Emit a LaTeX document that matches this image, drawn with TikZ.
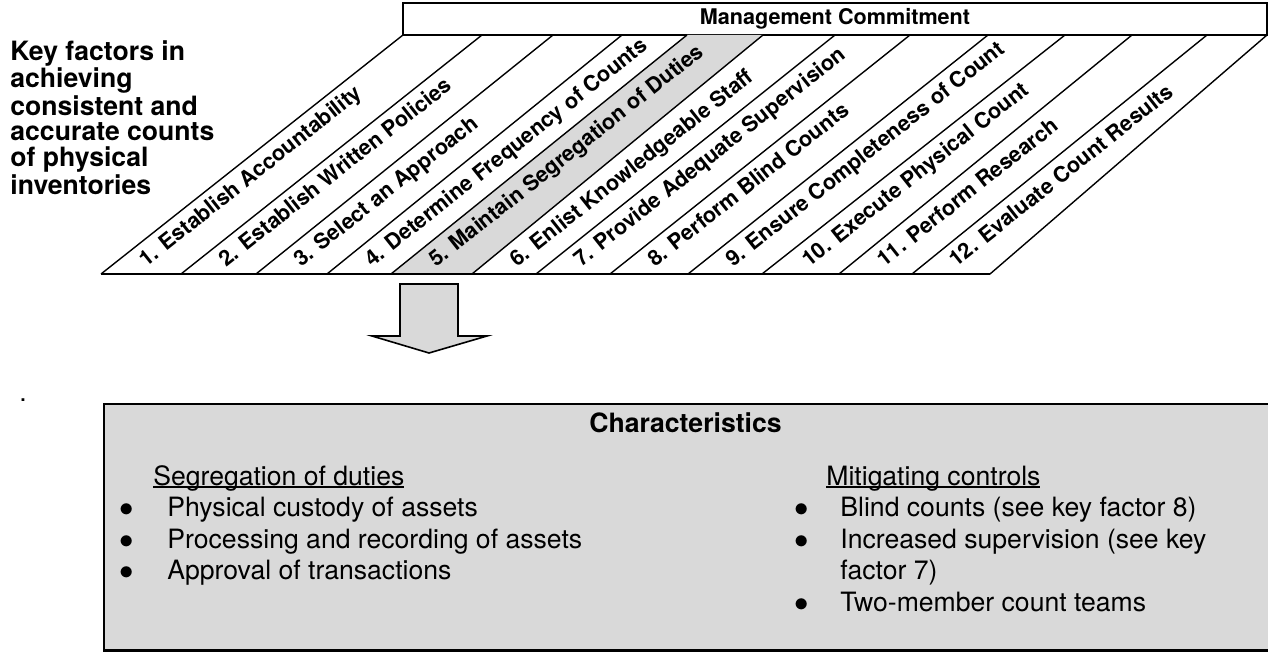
\documentclass[tikz,border=0pt]{standalone}
\usepackage{fontspec}
\setmainfont{TeX Gyre Heros}
\usepackage{tikz}

\definecolor{boxgray}{HTML}{D9D9D9}
\newcommand{\factorfont}{\fontsize{10.8}{12}\selectfont\bfseries}
\newcommand{\titlefont}{\fontsize{13.3}{12.75}\selectfont\bfseries}
\newcommand{\listfont}{\fontsize{13.3}{15.8}\selectfont}
\newcommand{\ulhead}[1]{\setbox0\hbox{#1}\rlap{\rule[-1.4pt]{\wd0}{0.7pt}}#1}
\newcommand{\bul}{$\bullet$}

\tikzset{
  factor/.style={anchor=base west, inner sep=0pt, rotate=38.4, font=\factorfont},
  band/.style={line width=0.7pt},
}

\begin{document}
\begin{tikzpicture}[x=0.5pt, y=-0.5pt]
        \useasboundingbox (0,0) rectangle (1268,652);

        % Title on the left
        \node[anchor=north west, inner sep=0pt, align=left, font=\titlefont] (title) at (10,40)
            {Key factors in\\achieving\\consistent and\\accurate counts\\of physical\\inventories};

        % Management commitment bar
        \draw[line width=1pt] (403,3) rectangle (1267,35);
        \node[font=\factorfont] (mgmt) at (835,19) {Management Commitment};

        % Band corners, bottom and top
        \coordinate (b1) at (101,274);  \coordinate (t1) at (403,35);
        \coordinate (b2) at (181,274);  \coordinate (t2) at (482,35);
        \coordinate (b3) at (256,274);  \coordinate (t3) at (553,35);
        \coordinate (b4) at (327,274);  \coordinate (t4) at (622,35);
        \coordinate (b5) at (391,274);  \coordinate (t5) at (687,35);
        \coordinate (b6) at (472,274);  \coordinate (t6) at (763,35);
        \coordinate (b7) at (536,274);  \coordinate (t7) at (835,35);
        \coordinate (b8) at (610,274);  \coordinate (t8) at (910,35);
        \coordinate (b9) at (688,274);  \coordinate (t9) at (988,35);
        \coordinate (b10) at (762,274); \coordinate (t10) at (1065,35);
        \coordinate (b11) at (839,274); \coordinate (t11) at (1132,35);
        \coordinate (b12) at (912,274); \coordinate (t12) at (1207,35);
        \coordinate (b13) at (990,274); \coordinate (t13) at (1267,35);

        % Shaded band (key factor 5)
        \fill[boxgray] (b5) -- (b6) -- (t6) -- (t5) -- cycle;

        % Band edges
        \draw[band] (b1) -- (t1);
        \draw[band] (b2) -- (t2);
        \draw[band] (b3) -- (t3);
        \draw[band] (b4) -- (t4);
        \draw[band] (b5) -- (t5);
        \draw[band] (b6) -- (t6);
        \draw[band] (b7) -- (t7);
        \draw[band] (b8) -- (t8);
        \draw[band] (b9) -- (t9);
        \draw[band] (b10) -- (t10);
        \draw[band] (b11) -- (t11);
        \draw[band] (b12) -- (t12);
        \draw[band] (b13) -- (t13);
        \draw[line width=1pt] (b1) -- (b13);

        % Key factors
        \node[factor] (f1) at (146,268) {1. Establish Accountability};
        \node[factor] (f2) at (226,268) {2. Establish Written Policies};
        \node[factor] (f3) at (301,268) {3. Select an Approach};
        \node[factor] (f4) at (372,268) {4. Determine Frequency of Counts};
        \node[factor] (f5) at (436,268) {5. Maintain Segregation of Duties};
        \node[factor] (f6) at (517,268) {6. Enlist Knowledgeable Staff};
        \node[factor] (f7) at (581,268) {7. Provide Adequate Supervision};
        \node[factor] (f8) at (655,268) {8. Perform Blind Counts};
        \node[factor] (f9) at (733,268) {9. Ensure Completeness of Count};
        \node[factor] (f10) at (809,268) {10. Execute Physical Count};
        \node[factor] (f11) at (884,268) {11. Perform Research};
        \node[factor] (f12) at (956,268) {12. Evaluate Count Results};

        % Block arrow down
        \filldraw[fill=boxgray, line width=0.8pt] (400,284) -- (458,284) -- (458,336) -- (487,336)
            -- (429,353) -- (372,336) -- (400,336) -- cycle;

        % Stray dot
        \node[anchor=base, inner sep=0pt, font=\listfont] (dot) at (23,401) {.};

        % Characteristics box
        \filldraw[fill=boxgray, line width=1.2pt] (104,404) rectangle (1269,650.5);
        \node[anchor=base, inner sep=0pt, font=\listfont\bfseries] (chars) at (685.5,432) {Characteristics};

        \node[anchor=base west, inner sep=0pt, font=\listfont] (segr) at (119,485)
            {\begin{tabular}[t]{@{}p{24pt}@{}l@{}}
             \multicolumn{2}{@{\hspace{17pt}}l@{}}{\ulhead{Segregation of duties}}\\
             \bul & Physical custody of assets\\
             \bul & Processing and recording of assets\\
             \bul & Approval of transactions
             \end{tabular}};

        \node[anchor=base west, inner sep=0pt, font=\listfont] (mitig) at (794,485)
            {\begin{tabular}[t]{@{}p{23pt}@{}l@{}}
             \multicolumn{2}{@{\hspace{16pt}}l@{}}{\ulhead{Mitigating controls}}\\
             \bul & Blind counts (see key factor 8)\\
             \bul & Increased supervision (see key\\
                  & factor 7)\\
             \bul & Two-member count teams
             \end{tabular}};
    \end{tikzpicture}
\end{document}
